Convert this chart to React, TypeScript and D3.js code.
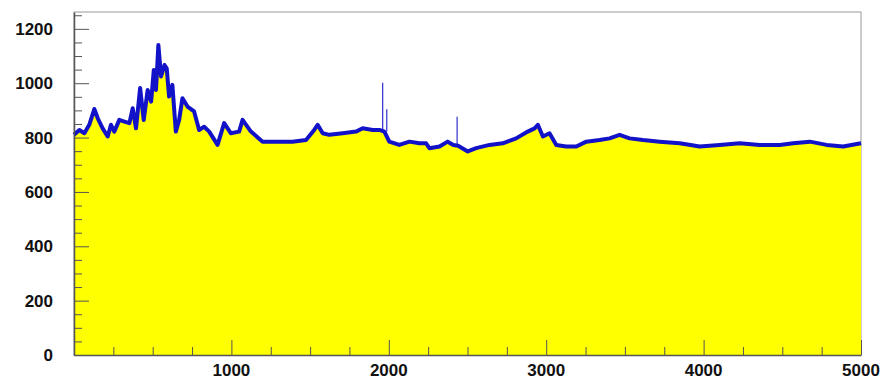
import React, { useEffect, useRef } from "react";
import * as d3 from "d3";

// bin positions and counts
const binX = [
  0, 34, 66, 97, 129, 151, 182, 214, 235, 256, 288, 320, 352, 373, 394, 420, 443, 468, 490, 507,
  521, 536, 553, 575, 589, 604, 625, 647, 668, 689, 721, 763, 795, 827, 859, 912, 954, 996, 1049,
  1071, 1124, 1198, 1283, 1388, 1474, 1526, 1548, 1580, 1622, 1707, 1792, 1834, 1898, 1940,
  1972, 2003, 2067, 2131, 2194, 2237, 2258, 2322, 2374, 2410, 2440, 2502, 2555, 2640, 2724, 2809,
  2883, 2926, 2947, 2979, 3021, 3064, 3127, 3191, 3255, 3339, 3403, 3466, 3530, 3615, 3721, 3848,
  3975, 4102, 4229, 4357, 4484, 4569, 4675, 4781, 4887, 5000,
];
const counts = [
  810, 828, 816, 847, 905, 871, 834, 804, 847, 822, 865, 859, 853, 908, 834, 982, 865, 975, 932, 1049,
  975, 1141, 1025, 1067, 1055, 951, 994, 822, 865, 945, 914, 896, 828, 840, 822, 773, 853, 816, 822,
  865, 822, 785, 785, 785, 791, 828, 847, 816, 810, 816, 822, 834, 828, 828,
  822, 785, 773, 785, 779, 779, 761, 767, 785, 773, 770, 749, 761, 773, 779, 797,
  822, 834, 847, 804, 816, 773, 767, 767, 785, 791, 797, 810, 797, 791, 785, 779,
  767, 773, 779, 773, 773, 779, 785, 773, 767, 779,
];

// single-bin spikes
const spikeX = [1961, 1987, 2434];
const spikeBase = [828, 822, 775];
const spikeTop = [1002, 904, 877];

const xMajor = [1000, 2000, 3000, 4000, 5000];
const yMajor = [0, 200, 400, 600, 800, 1000, 1200];

export default function App() {
  const ref = useRef(null);

  useEffect(() => {
    const width = 883;
    const height = 381;
    const margin = { top: 12, right: 22, bottom: 26, left: 74 };

    const svg = d3.select(ref.current).attr("viewBox", [0, 0, width, height]);
    svg.selectAll("*").remove();

    const x = d3.scaleLinear().domain([0, 5000]).range([margin.left, width - margin.right]);
    const y = d3.scaleLinear().domain([0, 1262]).range([height - margin.bottom, margin.top]);

    const pts = binX.map((b, i) => [b, counts[i]]);

    const area = d3.area()
      .x((d) => x(d[0]))
      .y0(y(0))
      .y1((d) => y(d[1]));
    const line = d3.line()
      .x((d) => x(d[0]))
      .y((d) => y(d[1]));

    svg.append("rect")
      .attr("x", margin.left).attr("y", margin.top)
      .attr("width", width - margin.left - margin.right)
      .attr("height", height - margin.top - margin.bottom)
      .attr("fill", "white").attr("stroke", "#9a9a9a").attr("stroke-width", 1);

    svg.append("path").datum(pts).attr("d", area).attr("fill", "#ffff00");

    svg.append("g")
      .selectAll("line")
      .data(spikeX)
      .join("line")
        .attr("x1", (d) => x(d)).attr("x2", (d) => x(d))
        .attr("y1", (d, i) => y(spikeBase[i]))
        .attr("y2", (d, i) => y(spikeTop[i]))
        .attr("stroke", "#4040d0").attr("stroke-width", 1.3);

    svg.append("path").datum(pts).attr("d", line)
      .attr("fill", "none").attr("stroke", "#1212c8")
      .attr("stroke-width", 4).attr("stroke-linejoin", "round");

    const axisColor = "#555";
    const xAxis = d3.axisBottom(x)
      .tickValues(d3.range(250, 5001, 250))
      .tickSize(0).tickFormat("");
    svg.append("g")
      .attr("transform", `translate(0,${y(0)})`)
      .call(xAxis)
      .call((g) => g.select(".domain").attr("stroke", axisColor).attr("stroke-width", 1.5))
      .call((g) => g.selectAll(".tick line")
        .attr("y2", (d) => (xMajor.includes(d) ? -15 : -8))
        .attr("stroke", axisColor));

    svg.append("g")
      .selectAll("text")
      .data(xMajor)
      .join("text")
        .attr("x", (d) => x(d)).attr("y", 376)
        .attr("text-anchor", "middle")
        .attr("font-family", "Liberation Sans, Arial, sans-serif")
        .attr("font-weight", "bold").attr("font-size", 17).attr("fill", "#111")
        .text((d) => d);

    const yAxis = d3.axisLeft(y)
      .tickValues(d3.range(0, 1251, 50))
      .tickSize(0).tickFormat("");
    svg.append("g")
      .attr("transform", `translate(${margin.left},0)`)
      .call(yAxis)
      .call((g) => g.select(".domain").attr("stroke", axisColor).attr("stroke-width", 1.5))
      .call((g) => g.selectAll(".tick line")
        .attr("x2", (d) => (yMajor.includes(d) ? 15 : 8))
        .attr("stroke", axisColor));

    svg.append("g")
      .selectAll("text")
      .data(yMajor)
      .join("text")
        .attr("x", 53).attr("y", (d) => y(d) + 6)
        .attr("text-anchor", "end")
        .attr("font-family", "Liberation Sans, Arial, sans-serif")
        .attr("font-weight", "bold").attr("font-size", 17).attr("fill", "#111")
        .text((d) => d);
  }, []);

  return (
    <svg
      ref={ref}
      width={883}
      height={381}
      style={{ position: "absolute", left: 0, top: 0 }}
    />
  );
}
